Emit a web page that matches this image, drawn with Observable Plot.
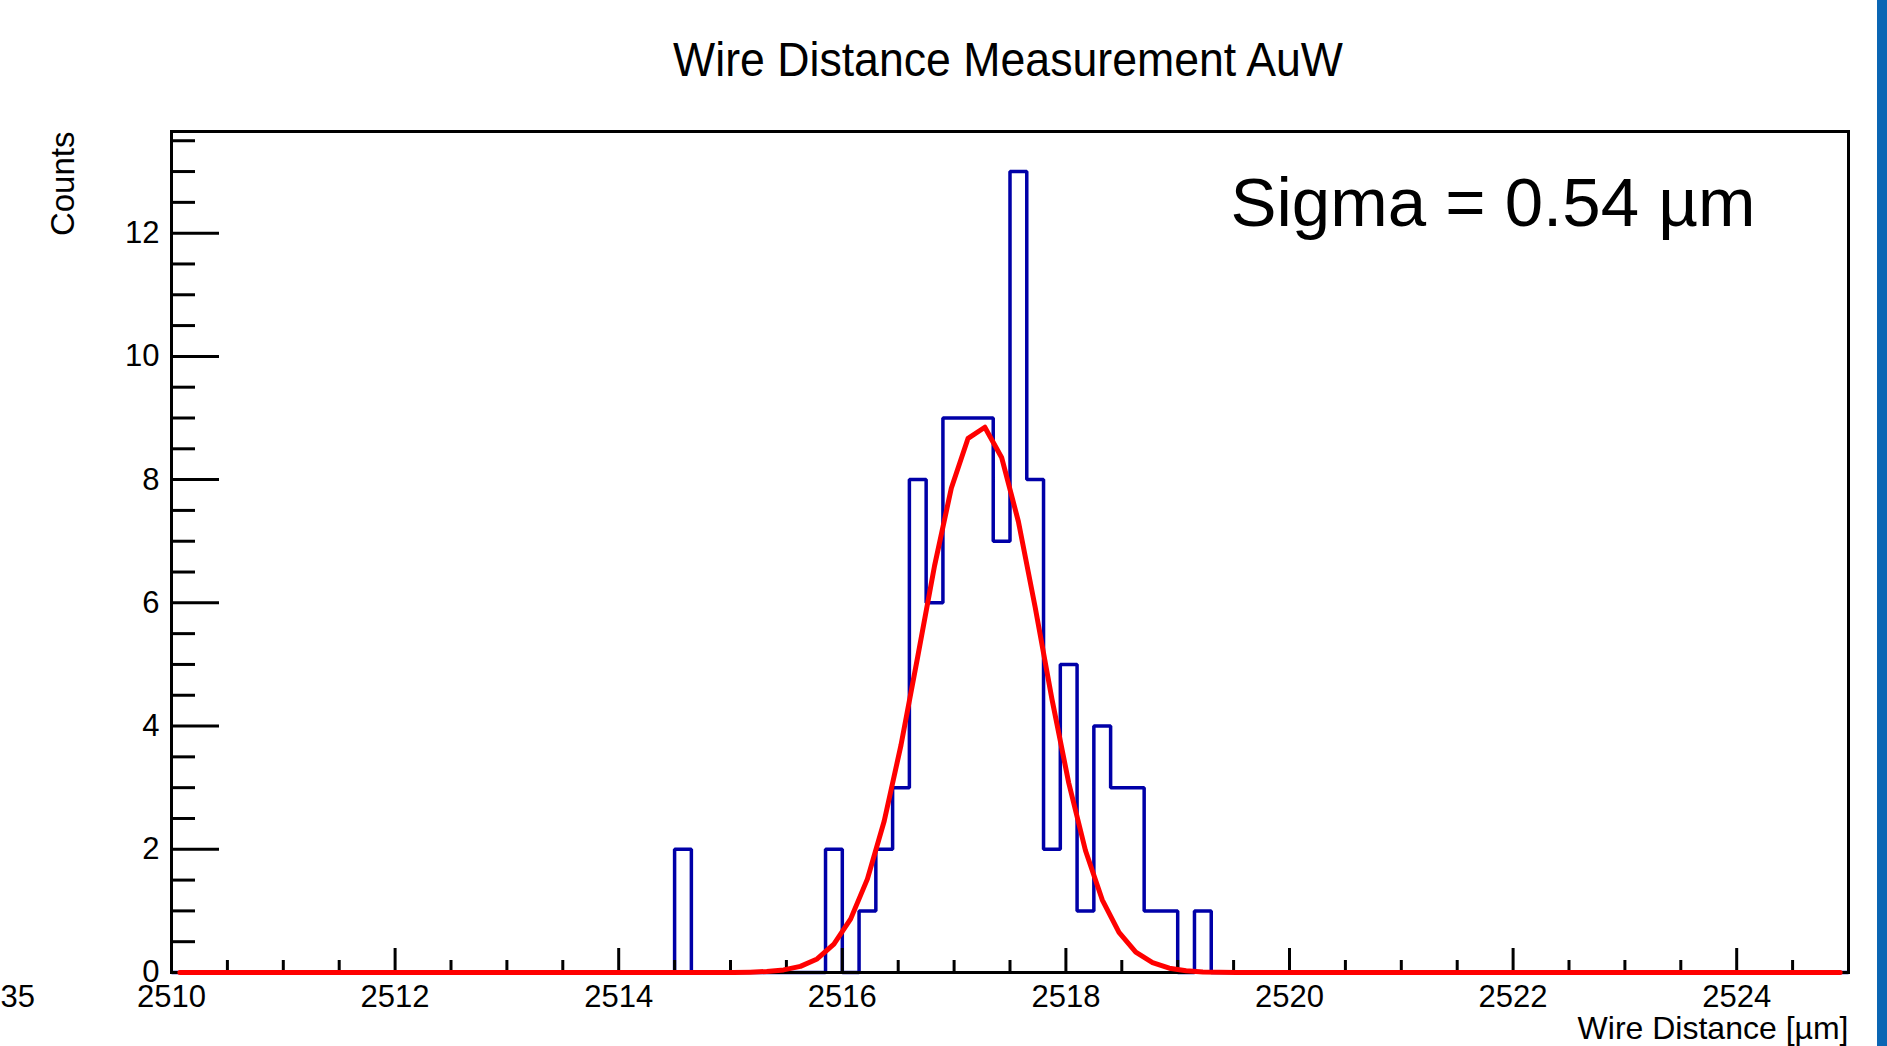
<!DOCTYPE html>
<html>
<head>
<meta charset="utf-8">
<script src="https://cdn.jsdelivr.net/npm/d3@7"></script>
<script src="https://cdn.jsdelivr.net/npm/@observablehq/plot@0.6"></script>
<style>
  html, body { margin: 0; padding: 0; background: #fff; }
  #wrap { position: relative; width: 1887px; height: 1046px; overflow: hidden;
          font-family: "Liberation Sans", Arial, Helvetica, sans-serif; color: #000; }
  #title { position: relative; height: 100px; }
  #title span { position: absolute; left: 1008px; top: 36px; font-size: 48px; line-height: 1;
                white-space: nowrap; transform: translateX(-50%) scaleX(0.93); transform-origin: 50% 50%; }
  #band { position: absolute; left: 1877px; top: 0; width: 10px; height: 1046px; background: #0b66b4; }
  #chart svg { display: block; }
</style>
</head>
<body>
<div id="wrap">
  <div id="title"><span>Wire Distance Measurement AuW</span></div>
  <div id="chart"></div>
  <div id="band"></div>
</div>
<script>
// ---- data ----
const binLow = 2510;
const binWidth = 0.15;
// 100 bins over [2510, 2525]
const counts = [
  0,0,0,0,0,0,0,0,0,0,
  0,0,0,0,0,0,0,0,0,0,
  0,0,0,0,0,0,0,0,0,0,
  2,0,0,0,0,0,0,0,0,2,
  0,1,2,3,8,6,9,9,9,7,
  13,8,2,5,1,4,3,3,1,1,
  0,1,0,0,0,0,0,0,0,0,
  0,0,0,0,0,0,0,0,0,0,
  0,0,0,0,0,0,0,0,0,0,
  0,0,0,0,0,0,0,0,0,0
];

const fitX = [2510.075, 2514.875,
  2515.025, 2515.175, 2515.325, 2515.475, 2515.625, 2515.775, 2515.925, 2516.075,
  2516.225, 2516.375, 2516.525, 2516.675, 2516.825, 2516.975, 2517.125, 2517.275,
  2517.425, 2517.575, 2517.725, 2517.875, 2518.025, 2518.175, 2518.325, 2518.475,
  2518.625, 2518.775, 2518.925, 2519.075, 2519.225, 2519.375, 2519.525,
  2519.675, 2524.925];
const fitY = [0, 0,
  0.002, 0.006, 0.016, 0.042, 0.10, 0.22, 0.46, 0.87,
  1.52, 2.46, 3.69, 5.13, 6.60, 7.86, 8.67, 8.85,
  8.36, 7.32, 5.93, 4.44, 3.08, 1.98, 1.18, 0.65,
  0.33, 0.16, 0.07, 0.03, 0.01, 0.004, 0.001,
  0, 0];

const xMajor = [2510, 2512, 2514, 2516, 2518, 2520, 2522, 2524];
const xMinor = [2510.5, 2511, 2511.5, 2512.5, 2513, 2513.5, 2514.5, 2515, 2515.5, 2516.5, 2517, 2517.5,
  2518.5, 2519, 2519.5, 2520.5, 2521, 2521.5, 2522.5, 2523, 2523.5, 2524.5];
const yMajor = [0, 2, 4, 6, 8, 10, 12];
const yMinor = [0.5, 1, 1.5, 2.5, 3, 3.5, 4.5, 5, 5.5, 6.5, 7, 7.5, 8.5, 9, 9.5, 10.5, 11, 11.5, 12.5, 13, 13.5];

const xDomain = [2510, 2525];
const yDomain = [0, 13.65];

const xTitle = "Wire Distance [µm]";
const yTitle = "Counts";
const sigmaLabel = "Sigma = 0.54 µm";
const strayLabel = "35";

// ---- build tables ----
const histSteps = counts.map((c, k) => ({x: binLow + k * binWidth, y: c}));
histSteps.push({x: xDomain[1], y: 0});
const fitPts = fitX.map((x, i) => ({x, y: fitY[i]}));

const font = "Liberation Sans, Arial, Helvetica, sans-serif";

const chart = Plot.plot({
  width: 1887,
  height: 946,
  marginLeft: 171,
  marginRight: 39,
  marginTop: 31,
  marginBottom: 74,
  style: {fontFamily: font, fontSize: "31px", color: "black", background: "white", overflow: "visible"},
  x: {domain: xDomain, label: null},
  y: {domain: yDomain, label: null},
  marks: [
    Plot.line(histSteps, {x: "x", y: "y", curve: "step-after", stroke: "#0000a8", strokeWidth: 3.5,
      strokeLinejoin: "miter", strokeLinecap: "butt"}),
    Plot.frame({stroke: "black", strokeWidth: 3}),
    // ticks (inside the frame)
    Plot.axisX(xMajor, {tickSize: -24, fill: "none", stroke: "black", strokeWidth: 3}),
    Plot.axisX(xMinor, {tickSize: -12, fill: "none", stroke: "black", strokeWidth: 3}),
    Plot.axisY(yMajor, {tickSize: -48, fill: "none", stroke: "black", strokeWidth: 3}),
    Plot.axisY(yMinor, {tickSize: -24, fill: "none", stroke: "black", strokeWidth: 3}),
    // tick labels
    Plot.axisX(xMajor, {tickSize: 0, tickPadding: 12, tickFormat: d => String(d), label: null, fontSize: 31, fill: "black"}),
    Plot.axisY(yMajor, {tickSize: 0, tickPadding: 12, tickFormat: d => String(d), label: null, fontSize: 31, fill: "black"}),
    // fit curve
    Plot.line(fitPts, {x: "x", y: "y", stroke: "#ff0000", strokeWidth: 5, strokeLinejoin: "round"}),
    // texts
    Plot.text([xTitle], {text: d => d, frameAnchor: "bottom-right", textAnchor: "end", lineAnchor: "bottom",
      dy: 66, fontSize: 32, fill: "black"}),
    Plot.text([yTitle], {text: d => d, frameAnchor: "top-left", textAnchor: "end", lineAnchor: "bottom",
      rotate: -90, dx: -98, dy: 0, fontSize: 33, fill: "black"}),
    Plot.text([sigmaLabel], {text: d => d, frameAnchor: "top-left", textAnchor: "start", lineAnchor: "bottom",
      dx: 1059, dy: 94, fontSize: 69, fill: "black"}),
    Plot.text([strayLabel], {text: d => d, frameAnchor: "bottom-left", textAnchor: "start", lineAnchor: "bottom",
      dx: -171, dy: 34, fontSize: 31, fill: "black"})
  ]
});
document.getElementById("chart").appendChild(chart);
</script>
</body>
</html>
